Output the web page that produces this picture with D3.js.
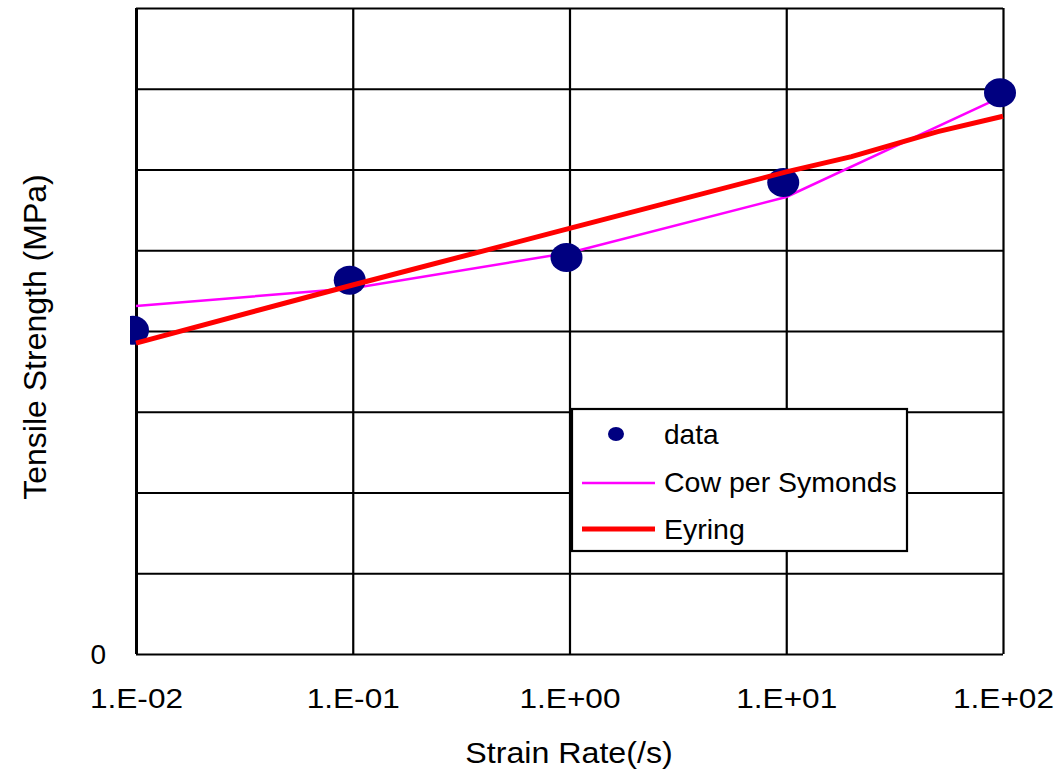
<!DOCTYPE html>
<html>
<head>
<meta charset="utf-8">
<script src="https://cdn.jsdelivr.net/npm/d3@7"></script>
<style>
  body { margin: 0; background: #fff; }
  text { font-family: "Liberation Sans", Arial, sans-serif; fill: #000; }
</style>
</head>
<body>
<div id="chart"></div>
<script>
// strain rate decades and their labels
const strainRate = [0.01, 0.1, 1, 10, 100];
const tickLabels = ["1.E-02", "1.E-01", "1.E+00", "1.E+01", "1.E+02"];

// measured tensile strength (axis has no scale labels, only 0)
const dataStrength = [4.01, 4.63, 4.91, 5.84, 6.95];
// cowper symonds fit, piecewise through the decades
const cowperStrength = [4.31, 4.53, 4.97, 5.66, 6.91];
// eyring fit
const eyringRate = [0.01, 0.1, 1, 10, 20, 50, 100];
const eyringStrength = [3.85, 4.57, 5.27, 5.97, 6.16, 6.47, 6.66];

const yGrid = [0, 1, 2, 3, 4, 5, 6, 7, 8];

const width = 1059, height = 771;
const margin = {top: 8, right: 56, bottom: 117, left: 136};

const svg = d3.select("#chart")
  .append("svg")
  .attr("width", width)
  .attr("height", height);

const x = d3.scaleLog()
  .domain([0.01, 100])
  .range([margin.left, width - margin.right]);

const y = d3.scaleLinear()
  .domain([0, 8])
  .range([height - margin.bottom, margin.top]);

svg.append("clipPath").attr("id", "plotclip")
  .append("rect")
  .attr("x", margin.left - 6).attr("y", 0)
  .attr("width", width).attr("height", height);

// horizontal grid lines (one with the 0 label)
const yAxis = svg.append("g")
  .attr("transform", "translate(" + margin.left + ",0)")
  .call(d3.axisLeft(y)
    .tickValues(yGrid)
    .tickSize(-(x.range()[1] - x.range()[0]))
    .tickPadding(30)
    .tickFormat(function(d) { return d === 0 ? "0" : ""; }));
yAxis.select(".domain").remove();
yAxis.selectAll(".tick line").attr("stroke", "#000").attr("stroke-width", 2.2);
yAxis.selectAll(".tick text")
  .style("font-size", "28px")
  .attr("dy", "0.35em");

// vertical grid lines at each decade
const xAxis = svg.append("g")
  .attr("transform", "translate(0," + y(0) + ")")
  .call(d3.axisBottom(x)
    .tickValues(strainRate)
    .tickSize(-(y.range()[0] - y.range()[1]))
    .tickPadding(0)
    .tickFormat(function(d, i) { return tickLabels[i]; }));
xAxis.select(".domain").remove();
xAxis.selectAll(".tick line").attr("stroke", "#000").attr("stroke-width", 2.2);
xAxis.selectAll(".tick line").filter(function(d) { return d === 0.01; }).attr("stroke-width", 3);
xAxis.selectAll(".tick text")
  .style("font-size", "27px")
  .attr("y", 54)
  .attr("dy", 0)
  .attr("transform", "scale(1.17,1)");

// axis titles
svg.append("text")
  .attr("text-anchor", "middle")
  .attr("transform", "translate(" + 569 + "," + 763 + ") scale(1.11,1)")
  .style("font-size", "29px")
  .text("Strain Rate(/s)");

svg.append("text")
  .attr("text-anchor", "middle")
  .attr("transform", "translate(46,337) rotate(-90)")
  .style("font-size", "32px")
  .text("Tensile Strength (MPa)");

// cowper symonds line
const cowperLine = d3.line()
  .x(function(d, i) { return x(strainRate[i]); })
  .y(function(d) { return y(d); });
svg.append("path")
  .datum(cowperStrength)
  .attr("fill", "none")
  .attr("stroke", "#ff00ff")
  .attr("stroke-width", 2.5)
  .attr("d", cowperLine);

// data points
svg.append("g")
  .attr("clip-path", "url(#plotclip)")
  .selectAll("ellipse")
  .data(dataStrength)
  .enter()
  .append("ellipse")
  .attr("cx", function(d, i) { return x(strainRate[i]) - 3; })
  .attr("cy", function(d) { return y(d); })
  .attr("rx", 16)
  .attr("ry", 14.5)
  .attr("fill", "#000080");

// eyring line
const eyringLine = d3.line()
  .x(function(d, i) { return x(eyringRate[i]); })
  .y(function(d) { return y(d); });
svg.append("path")
  .datum(eyringStrength)
  .attr("fill", "none")
  .attr("stroke", "#ff0000")
  .attr("stroke-width", 5)
  .attr("d", eyringLine);

// legend
const legend = svg.append("g");
legend.append("rect")
  .attr("x", 572).attr("y", 409)
  .attr("width", 335).attr("height", 142)
  .attr("fill", "#fff")
  .attr("stroke", "#000")
  .attr("stroke-width", 2.2);

legend.append("ellipse")
  .attr("cx", 616).attr("cy", 434)
  .attr("rx", 8).attr("ry", 7)
  .attr("fill", "#000080");
legend.append("text")
  .attr("x", 664).attr("y", 444)
  .style("font-size", "28px")
  .text("data");

legend.append("line")
  .attr("x1", 582).attr("x2", 655)
  .attr("y1", 483).attr("y2", 483)
  .attr("stroke", "#ff00ff").attr("stroke-width", 2.5);
legend.append("text")
  .attr("x", 664).attr("y", 492)
  .style("font-size", "28.5px")
  .text("Cow per Symonds");

legend.append("line")
  .attr("x1", 582).attr("x2", 655)
  .attr("y1", 529).attr("y2", 529)
  .attr("stroke", "#ff0000").attr("stroke-width", 5);
legend.append("text")
  .attr("x", 664).attr("y", 539)
  .style("font-size", "28.5px")
  .text("Eyring");
</script>
</body>
</html>
